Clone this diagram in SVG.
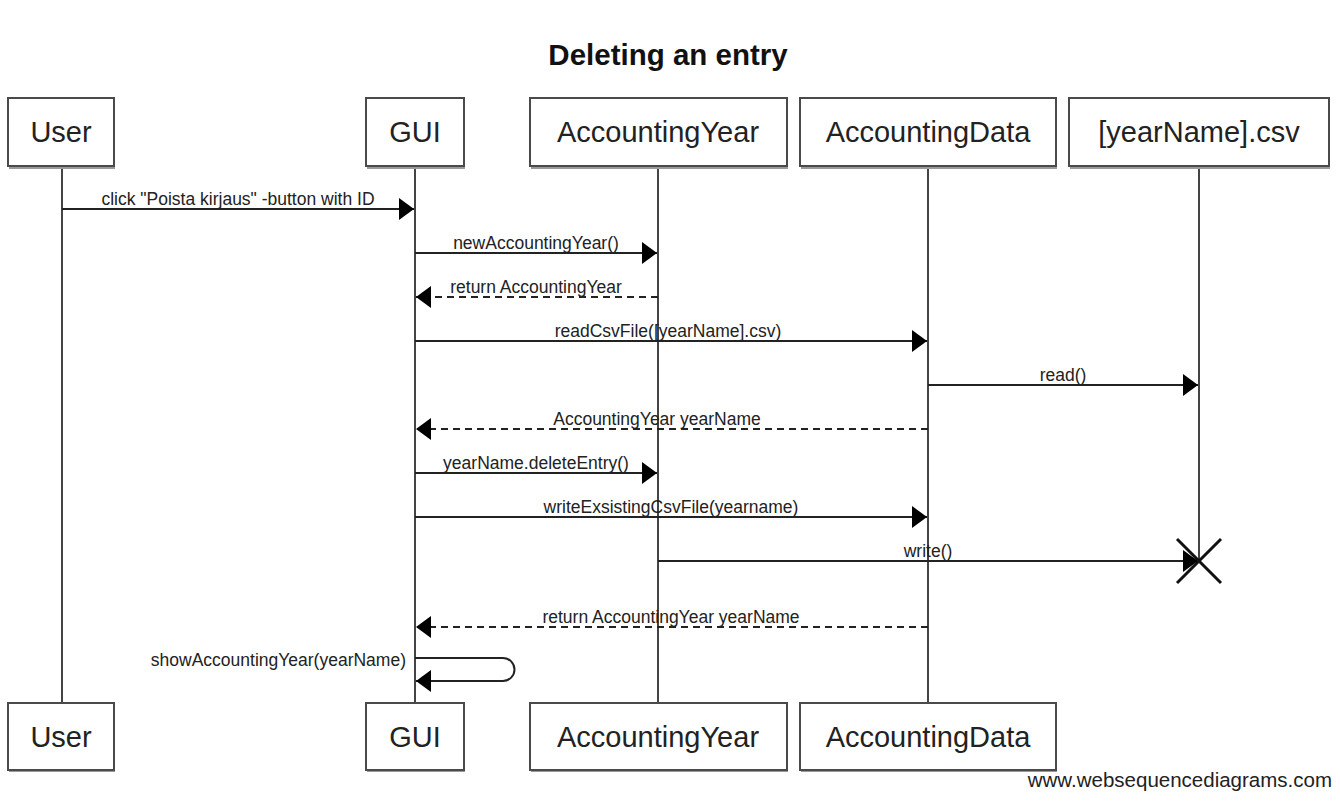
<svg xmlns="http://www.w3.org/2000/svg" width="1340" height="808" viewBox="0 0 1340 808">
<style>
.box{fill:#fff;stroke:#4a4a4a;stroke-width:2}
.shadow{fill:#9a9a9a;stroke:none}
.pl{font-family:"Liberation Sans",Arial,sans-serif;font-size:29px;fill:#222;text-anchor:middle}
.ml{font-family:"Liberation Sans",Arial,sans-serif;font-size:17.5px;fill:#222;text-anchor:middle}
.life{stroke:#444;stroke-width:2;fill:none}
.msg{stroke:#222;stroke-width:2;fill:none;marker-end:url(#ah)}
.ret{stroke:#222;stroke-width:2;fill:none;stroke-dasharray:7,5;marker-end:url(#ah)}
</style>
<defs>
<marker id="ah" markerUnits="userSpaceOnUse" markerWidth="16" markerHeight="24" refX="15" refY="11" orient="auto">
<path d="M0,0 L15,11 L0,22 z" fill="#000"/>
</marker>
</defs>
<rect width="1340" height="808" fill="#fff"/>
<text x="668" y="65" font-family="Liberation Sans,Arial,sans-serif" font-size="29.5" font-weight="bold" fill="#111" text-anchor="middle">Deleting an entry</text>

<g id="lifelines">
<line class="life" x1="62" y1="166" x2="62" y2="703"/>
<line class="life" x1="415" y1="166" x2="415" y2="703"/>
<line class="life" x1="658" y1="166" x2="658" y2="703"/>
<line class="life" x1="928" y1="166" x2="928" y2="703"/>
<line class="life" x1="1199" y1="166" x2="1199" y2="561"/>
</g>

<g id="User">
<rect class="shadow" x="9" y="100" width="106" height="69"/>
<rect class="box" x="8" y="98" width="106" height="68"/>
<text class="pl" x="61" y="142">User</text>
<rect class="shadow" x="9" y="705" width="106" height="67"/>
<rect class="box" x="8" y="703" width="106" height="67"/>
<text class="pl" x="61" y="747">User</text>
</g>
<g id="GUI">
<rect class="shadow" x="367" y="100" width="98" height="69"/>
<rect class="box" x="366" y="98" width="98" height="68"/>
<text class="pl" x="415" y="142">GUI</text>
<rect class="shadow" x="367" y="705" width="98" height="67"/>
<rect class="box" x="366" y="703" width="98" height="67"/>
<text class="pl" x="415" y="747">GUI</text>
</g>
<g id="AccountingYear">
<rect class="shadow" x="531" y="100" width="257" height="69"/>
<rect class="box" x="530" y="98" width="257" height="68"/>
<text class="pl" x="658" y="142">AccountingYear</text>
<rect class="shadow" x="531" y="705" width="257" height="67"/>
<rect class="box" x="530" y="703" width="257" height="67"/>
<text class="pl" x="658" y="747">AccountingYear</text>
</g>
<g id="AccountingData">
<rect class="shadow" x="801" y="100" width="256" height="69"/>
<rect class="box" x="800" y="98" width="256" height="68"/>
<text class="pl" x="928" y="142">AccountingData</text>
<rect class="shadow" x="801" y="705" width="256" height="67"/>
<rect class="box" x="800" y="703" width="256" height="67"/>
<text class="pl" x="928" y="747">AccountingData</text>
</g>
<g id="yearNameCsv">
<rect class="shadow" x="1070" y="100" width="260" height="69"/>
<rect class="box" x="1069" y="98" width="260" height="68"/>
<text class="pl" x="1199" y="142">[yearName].csv</text>
<g stroke="#111" stroke-width="3">
<line x1="1177" y1="539" x2="1221" y2="583"/>
<line x1="1221" y1="539" x2="1177" y2="583"/>
</g>
</g>

<g id="connectors">
<line class="msg" x1="62" y1="209" x2="414" y2="209"/>
<text class="ml" x="238" y="205">click "Poista kirjaus" -button with ID</text>
<line class="msg" x1="415" y1="253" x2="657" y2="253"/>
<text class="ml" x="536" y="249">newAccountingYear()</text>
<line class="ret" x1="658" y1="297" x2="416" y2="297"/>
<text class="ml" x="536" y="293">return AccountingYear</text>
<line class="msg" x1="415" y1="341" x2="927" y2="341"/>
<text class="ml" x="668" y="337">readCsvFile([yearName].csv)</text>
<line class="msg" x1="928" y1="385" x2="1198" y2="385"/>
<text class="ml" x="1063" y="381">read()</text>
<line class="ret" x1="928" y1="429" x2="416" y2="429"/>
<text class="ml" x="657" y="425">AccountingYear yearName</text>
<line class="msg" x1="415" y1="473" x2="657" y2="473"/>
<text class="ml" x="536" y="469">yearName.deleteEntry()</text>
<line class="msg" x1="415" y1="517" x2="927" y2="517"/>
<text class="ml" x="671" y="513">writeExsistingCsvFile(yearname)</text>
<line class="msg" x1="658" y1="561" x2="1198" y2="561"/>
<text class="ml" x="928" y="557">write()</text>
<line class="ret" x1="928" y1="627" x2="416" y2="627"/>
<text class="ml" x="671" y="623">return AccountingYear yearName</text>
<path class="msg" d="M415,658 H503 A11.5,11.5 0 0 1 503,681 H416"/>
<text class="ml" x="406" y="666" style="text-anchor:end">showAccountingYear(yearName)</text>
</g>

<text x="1332" y="787" font-family="Liberation Sans,Arial,sans-serif" font-size="20.5" fill="#222" text-anchor="end">www.websequencediagrams.com</text>
</svg>
